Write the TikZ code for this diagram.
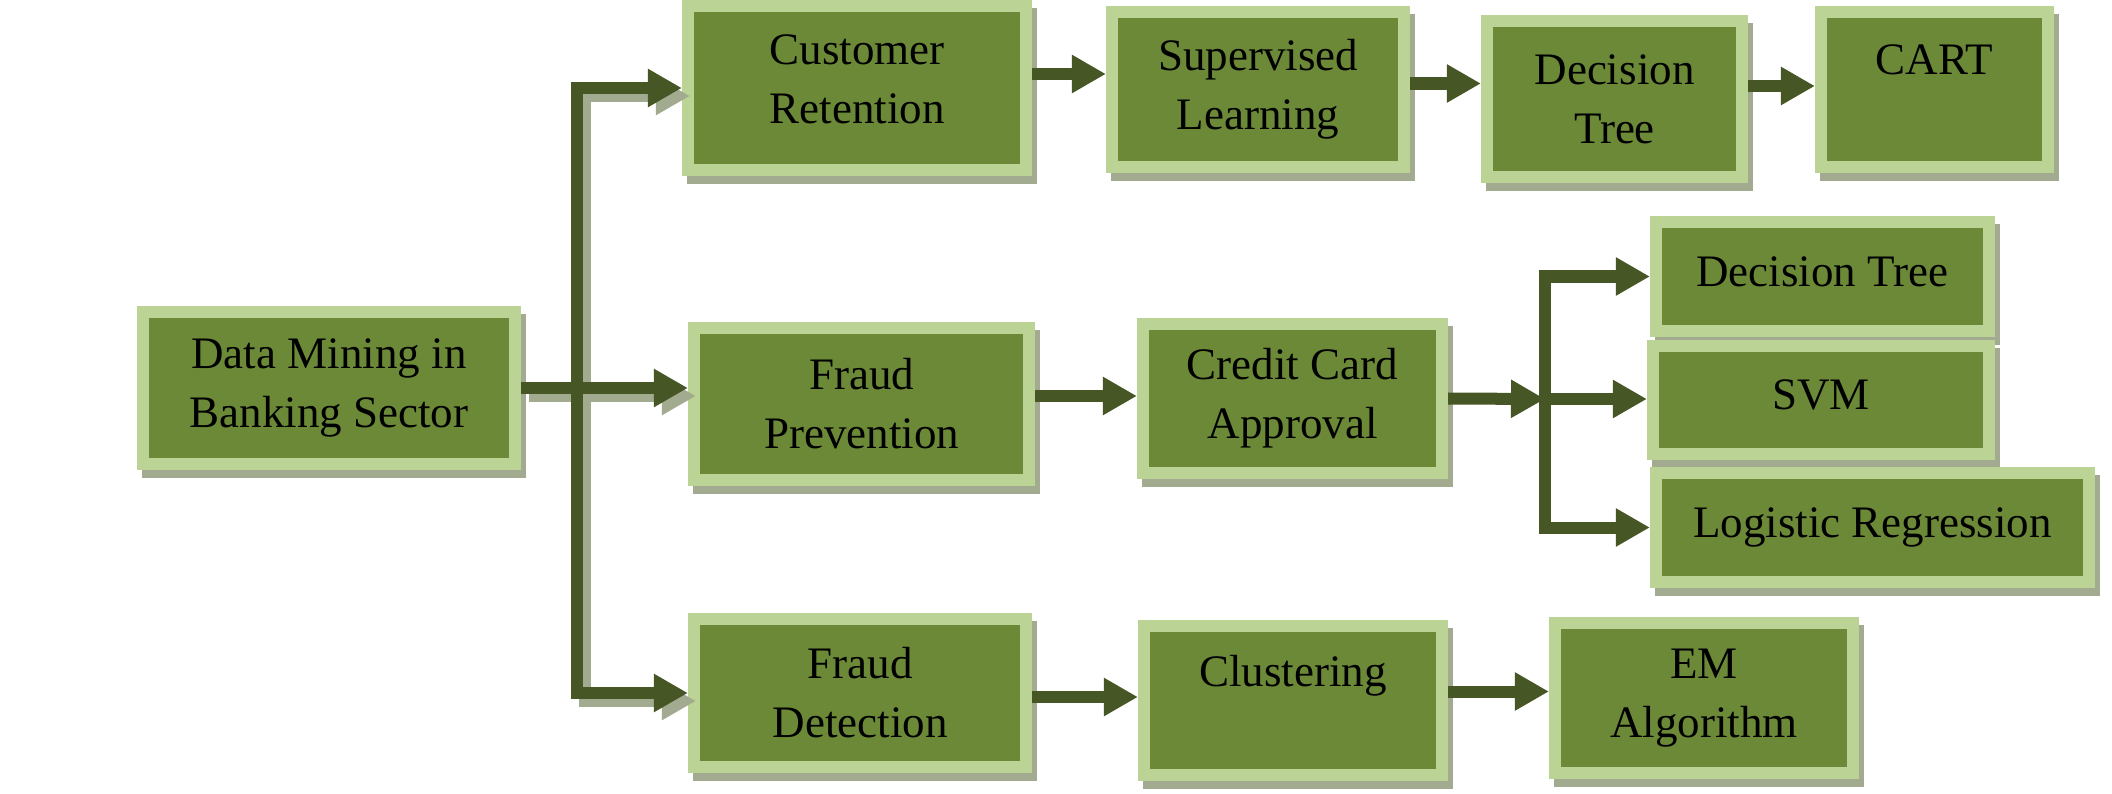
\documentclass[tikz,border=0pt]{standalone}
\usepackage{fontspec}
\setmainfont{Liberation Serif}
\usetikzlibrary{arrows.meta,shadows,calc}

\definecolor{boxfill}{RGB}{107,137,55}
\definecolor{boxedge}{RGB}{187,212,149}
\definecolor{flowcol}{RGB}{71,86,37}
\definecolor{shadowcol}{RGB}{162,171,144}

\tikzset{
  box/.style={draw=boxedge, fill=boxfill, line width=0.12cm, inner sep=0pt, align=center,
    font=\fontsize{12.8}{16.8}\selectfont,
    drop shadow={shadow xshift=0.05cm, shadow yshift=-0.08cm, opacity=1, fill=shadowcol, draw=shadowcol}},
  lifted/.style={text height=0.33cm, text depth=0.14cm},
  flow/.style={draw=flowcol, line width=0.12cm, -{Triangle[length=0.34cm,width=0.36cm]}},
  bar/.style={draw=flowcol, line width=0.12cm, line cap=rect},
}

\begin{document}
\begin{tikzpicture}[x=0.01cm, y=-0.01cm]
    \useasboundingbox (0,0) rectangle (2112,794);

    % Root
    \node[box, minimum width=3.72cm, minimum height=1.52cm] (dm) at (329,388) {Data Mining in\\Banking Sector};

    % Top row
    \node[box, text depth=0.17cm, minimum width=3.38cm, minimum height=1.64cm] (cr) at (857,88) {Customer\\Retention};
    \node[box, minimum width=2.92cm, minimum height=1.55cm] (sl) at (1258,89.5) {Supervised\\Learning};
    \node[box, minimum width=2.55cm, minimum height=1.56cm] (dt1) at (1614.5,99) {Decision\\Tree};
    \node[box, minimum width=2.27cm, minimum height=1.55cm] (cart) at (1934.5,89.5) {CART\\\mbox{}};

    % Middle row
    \node[box, minimum width=3.35cm, minimum height=1.52cm] (fp) at (861.5,404) {Fraud\\Prevention};
    \node[box, minimum width=2.99cm, minimum height=1.49cm] (cc) at (1292.5,398.5) {Credit Card\\Approval};
    \node[box, lifted, minimum width=3.33cm, minimum height=1.09cm] (dt2) at (1822.5,276.5) {Decision Tree};
    \node[box, lifted, minimum width=3.36cm, minimum height=1.08cm] (svm) at (1821,400) {SVM};
    \node[box, lifted, minimum width=4.33cm, minimum height=1.09cm] (lr) at (1872.5,527.5) {Logistic Regression};

    % Bottom row
    \node[box, minimum width=3.32cm, minimum height=1.48cm] (fd) at (860,693) {Fraud\\Detection};
    \node[box, minimum width=2.98cm, minimum height=1.49cm] (cl) at (1293,700.5) {Clustering\\\mbox{}};
    \node[box, minimum width=2.98cm, minimum height=1.50cm] (em) at (1704,698) {EM\\Algorithm};

    % Branch points
    \coordinate (trunk) at (577,388);
    \coordinate (jn) at (1545,399);

    % Trunk shadow
    \begin{scope}[transform canvas={xshift=0.08cm,yshift=-0.08cm}]
    \draw[bar, draw=shadowcol] (trunk |- cr.west) -- (trunk |- fd.west);
    \draw[flow, draw=shadowcol] (trunk |- cr.west) -- (cr.west);
    \draw[flow, draw=shadowcol] (dm.east) -- (dm.east -| fp.west);
    \draw[flow, draw=shadowcol] (trunk |- fd.west) -- (fd.west);
    \end{scope}

    % Trunk
    \draw[bar] (trunk |- cr.west) -- (trunk |- fd.west);
    \draw[flow] (trunk |- cr.west) -- (cr.west);
    \draw[flow] (dm.east) -- (dm.east -| fp.west);
    \draw[flow] (trunk |- fd.west) -- (fd.west);

    % Top row arrows
    \draw[flow] ($(cr.east)+(0,-14)$) -- ($(cr.east -| sl.west)+(0,-14)$);
    \draw[flow] ($(sl.east)+(0,-6)$) -- ($(sl.east -| dt1.west)+(0,-6)$);
    \draw[flow] ($(dt1.east)+(0,-13)$) -- ($(dt1.east -| cart.west)+(0,-13)$);

    % Middle row arrows
    \draw[flow] ($(fp.east)+(0,-8)$) -- ($(fp.east -| cc.west)+(0,-8)$);
    \draw[flow] (cc.east) -- (jn);
    \draw[bar] (jn |- dt2.west) -- (jn |- lr.west);
    \draw[flow] (jn |- dt2.west) -- (dt2.west);
    \draw[flow] (jn) -- (jn -| svm.west);
    \draw[flow] (jn |- lr.west) -- (lr.west);

    % Bottom row arrows
    \draw[flow] ($(fd.east)+(0,4)$) -- ($(fd.east -| cl.west)+(0,4)$);
    \draw[flow] ($(cl.east)+(0,-9)$) -- ($(cl.east -| em.west)+(0,-9)$);
\end{tikzpicture}
\end{document}
